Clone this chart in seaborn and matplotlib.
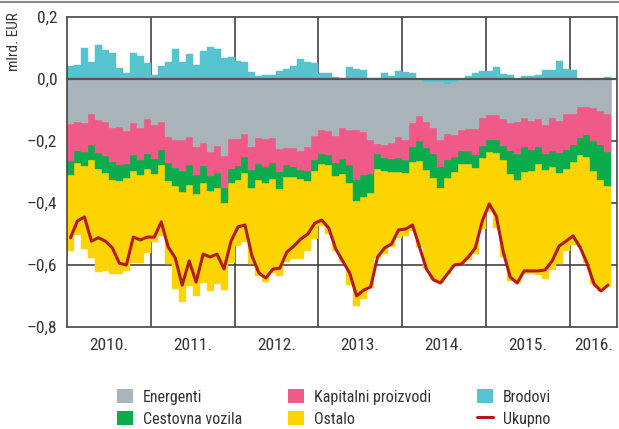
import numpy as np
import matplotlib
matplotlib.use("Agg")
import matplotlib.pyplot as plt
from matplotlib.lines import Line2D
from matplotlib.patches import Patch
from matplotlib import font_manager
import seaborn as sns

# monthly data, Jan 2010 - Jun 2016 (mlrd. EUR)
years = ["2010.", "2011.", "2012.", "2013.", "2014.", "2015.", "2016."]

energenti = [
    -0.145, -0.139, -0.142, -0.113, -0.132, -0.139, -0.158, -0.155, -0.168, -0.142, -0.158, -0.129,
    -0.148, -0.139, -0.187, -0.197, -0.197, -0.187, -0.219, -0.206, -0.235, -0.216, -0.248, -0.194,
    -0.194, -0.177, -0.219, -0.190, -0.194, -0.190, -0.226, -0.223, -0.223, -0.232, -0.219, -0.184,
    -0.165, -0.168, -0.184, -0.158, -0.165, -0.165, -0.171, -0.197, -0.210, -0.213, -0.206, -0.187,
    -0.197, -0.142, -0.119, -0.129, -0.148, -0.187, -0.161, -0.171, -0.165, -0.161, -0.161, -0.126,
    -0.116, -0.116, -0.129, -0.142, -0.136, -0.126, -0.135, -0.129, -0.148, -0.126, -0.135, -0.113,
    -0.113, -0.090, -0.087, -0.091, -0.103, -0.113,
]
kapitalni = [
    -0.119, -0.094, -0.094, -0.100, -0.106, -0.110, -0.110, -0.123, -0.106, -0.103, -0.103, -0.113,
    -0.110, -0.090, -0.084, -0.090, -0.100, -0.090, -0.090, -0.074, -0.077, -0.087, -0.103, -0.097,
    -0.087, -0.074, -0.074, -0.084, -0.090, -0.081, -0.074, -0.055, -0.061, -0.061, -0.077, -0.077,
    -0.077, -0.077, -0.087, -0.100, -0.113, -0.161, -0.139, -0.110, -0.032, -0.042, -0.052, -0.068,
    -0.065, -0.077, -0.081, -0.084, -0.084, -0.087, -0.084, -0.071, -0.068, -0.071, -0.084, -0.090,
    -0.081, -0.081, -0.087, -0.090, -0.103, -0.094, -0.094, -0.090, -0.094, -0.106, -0.103, -0.116,
    -0.100, -0.100, -0.090, -0.106, -0.110, -0.123,
]
cestovna = [
    -0.045, -0.039, -0.045, -0.048, -0.052, -0.055, -0.058, -0.052, -0.045, -0.052, -0.048, -0.048,
    -0.048, -0.048, -0.058, -0.058, -0.068, -0.065, -0.061, -0.055, -0.048, -0.048, -0.048, -0.045,
    -0.045, -0.052, -0.058, -0.052, -0.052, -0.052, -0.055, -0.039, -0.032, -0.029, -0.032, -0.035,
    -0.032, -0.032, -0.042, -0.048, -0.058, -0.068, -0.071, -0.061, -0.048, -0.042, -0.042, -0.045,
    -0.042, -0.048, -0.065, -0.071, -0.077, -0.068, -0.058, -0.048, -0.042, -0.042, -0.042, -0.039,
    -0.039, -0.042, -0.045, -0.074, -0.084, -0.081, -0.068, -0.055, -0.052, -0.052, -0.065, -0.061,
    -0.055, -0.055, -0.071, -0.097, -0.113, -0.110,
]
ostalo = [
    -0.245, -0.232, -0.268, -0.316, -0.332, -0.316, -0.303, -0.300, -0.300, -0.297, -0.284, -0.271,
    -0.219, -0.229, -0.268, -0.332, -0.355, -0.326, -0.329, -0.323, -0.323, -0.310, -0.281, -0.258,
    -0.213, -0.223, -0.245, -0.310, -0.319, -0.303, -0.281, -0.274, -0.265, -0.258, -0.226, -0.219,
    -0.200, -0.223, -0.242, -0.284, -0.329, -0.339, -0.329, -0.306, -0.287, -0.268, -0.242, -0.213,
    -0.203, -0.223, -0.277, -0.319, -0.329, -0.306, -0.310, -0.300, -0.323, -0.310, -0.277, -0.229,
    -0.194, -0.242, -0.313, -0.345, -0.332, -0.329, -0.332, -0.358, -0.352, -0.332, -0.294, -0.265,
    -0.268, -0.297, -0.342, -0.365, -0.358, -0.326,
]
brodovi = [
    0.042, 0.045, 0.100, 0.055, 0.110, 0.094, 0.084, 0.035, 0.019, 0.084, 0.074, 0.052,
    0.013, 0.042, 0.055, 0.097, 0.055, 0.081, 0.045, 0.090, 0.103, 0.097, 0.068, 0.071,
    0.059, 0.055, 0.023, 0.010, 0.013, 0.013, 0.026, 0.032, 0.042, 0.065, 0.055, 0.052,
    0.019, 0.019, 0.006, 0.003, 0.039, 0.032, 0.029, 0.003, 0.003, 0.019, 0.010, 0.026,
    0.023, 0.019, 0.000, -0.010, -0.010, -0.010, -0.016, -0.010, 0.000, 0.010, 0.019, 0.026,
    0.026, 0.039, 0.016, 0.013, -0.003, 0.010, 0.010, 0.013, 0.029, 0.029, 0.058, 0.032,
    0.029, 0.000, -0.003, -0.003, 0.000, 0.006,
]
ukupno = [
    -0.512, -0.458, -0.445, -0.523, -0.512, -0.523, -0.545, -0.594, -0.600, -0.510, -0.519, -0.510,
    -0.510, -0.461, -0.542, -0.577, -0.665, -0.587, -0.655, -0.565, -0.574, -0.565, -0.613, -0.523,
    -0.477, -0.471, -0.571, -0.626, -0.642, -0.613, -0.610, -0.558, -0.539, -0.516, -0.500, -0.465,
    -0.455, -0.481, -0.548, -0.587, -0.626, -0.700, -0.681, -0.671, -0.574, -0.545, -0.532, -0.487,
    -0.484, -0.471, -0.542, -0.613, -0.648, -0.658, -0.629, -0.600, -0.597, -0.574, -0.545, -0.458,
    -0.403, -0.442, -0.558, -0.639, -0.658, -0.619, -0.619, -0.619, -0.616, -0.587, -0.539, -0.523,
    -0.506, -0.542, -0.594, -0.661, -0.684, -0.665,
]

c_energenti = "#a8b4b9"
c_kapitalni = "#f05a88"
c_cestovna = "#0bac4b"
c_ostalo = "#fdd300"
c_brodovi = "#55c4cf"
c_ukupno = "#b5191e"
text_col = "#333333"

sns.set_style("white")

# pick a narrow face if one is installed
installed = {f.name for f in font_manager.fontManager.ttflist}
narrow = [f for f in ["Liberation Sans Narrow", "DejaVu Sans Condensed", "Roboto Condensed"]
          if f in installed]
fam = narrow[:1] + ["Liberation Sans", "DejaVu Sans"]
plt.rcParams["font.family"] = fam
# without a narrow face the text is set a little smaller
fs = 1.0 if narrow else 0.86

months = np.arange(len(ukupno))

# stacking: negative ship values first, then energy, capital goods, vehicles, other
neg_b = np.minimum(brodovi, 0)
pos_b = np.maximum(brodovi, 0)
s1 = neg_b + np.array(energenti)
s2 = s1 + np.array(kapitalni)
s3 = s2 + np.array(cestovna)
s4 = s3 + np.array(ostalo)

fig = plt.figure(figsize=(6.19, 4.29), dpi=100)
ax = fig.add_axes([67 / 619, 1 - 327 / 429, 550 / 619, 310 / 429])

# layered bars, deepest first
for vals, col in [(s4, c_ostalo), (s3, c_cestovna), (s2, c_kapitalni),
                  (s1, c_energenti), (neg_b, c_brodovi), (pos_b, c_brodovi)]:
    sns.barplot(x=months, y=vals, color=col, width=1, saturation=1,
                errorbar=None, edgecolor=col, linewidth=0.3, ax=ax, zorder=1)

sns.lineplot(x=months, y=ukupno, color=c_ukupno, linewidth=2.2, ax=ax, zorder=4)

# grid behind bars
for yv in [-0.2, -0.4, -0.6]:
    ax.axhline(yv, color="#333333", lw=1.1, zorder=0.5)
for xv in [11.5, 23.5, 35.5, 47.5, 59.5, 71.5]:
    ax.axvline(xv, color="#333333", lw=1.1, zorder=0.5)
ax.axhline(0, color="#555555", lw=1.6, zorder=3)

ax.set_xlim(-0.5, 78.3)
ax.set_ylim(-0.8, 0.2)

ax.set_xticks([5.5, 17.5, 29.5, 41.5, 53.5, 65.5, 75.0])
ax.set_xticklabels(years)
ax.set_yticks([0.2, 0.0, -0.2, -0.4, -0.6, -0.8])
ax.set_yticklabels(["0,2", "0,0", "–0,2", "–0,4", "–0,6", "–0,8"])
ax.tick_params(axis="both", length=0, labelsize=12.5 * fs, labelcolor=text_col)
ax.tick_params(axis="x", pad=8)
ax.tick_params(axis="y", pad=7)
ax.set_xlabel("")
ax.set_ylabel("")

for side in ["left", "right", "top", "bottom"]:
    ax.spines[side].set_visible(True)
    ax.spines[side].set_color("#444444")
    ax.spines[side].set_linewidth(1.2)

fig.text(14 / 619, 1 - 12 / 429, "mlrd. EUR", rotation=90, ha="center", va="top",
         fontsize=11 * fs, color=text_col)

# thin rule at the top of the figure
fig.add_artist(Line2D([0, 1], [1 - 2 / 429, 1 - 2 / 429], color="#888888", lw=1.5))

handles = [
    Patch(facecolor=c_energenti, edgecolor="none"),
    Patch(facecolor=c_cestovna, edgecolor="none"),
    Patch(facecolor=c_kapitalni, edgecolor="none"),
    Patch(facecolor=c_ostalo, edgecolor="none"),
    Patch(facecolor=c_brodovi, edgecolor="none"),
    Line2D([], [], color=c_ukupno, lw=2.2),
]
labels = ["Energenti", "Cestovna vozila", "Kapitalni proizvodi", "Ostalo", "Brodovi", "Ukupno"]
lfs = 11.5 * fs
leg = fig.legend(handles, labels, ncols=3, loc="upper left",
                 bbox_to_anchor=(117 / 619, 1 - 389 / 429), frameon=False,
                 fontsize=lfs, handlelength=16 / (lfs * 100 / 72),
                 handleheight=16 / (lfs * 100 / 72), handletextpad=0.6,
                 labelspacing=0.4, columnspacing=2.9, borderpad=0, borderaxespad=0)
for t in leg.get_texts():
    t.set_color(text_col)

fig.savefig("out.png", dpi=100)
